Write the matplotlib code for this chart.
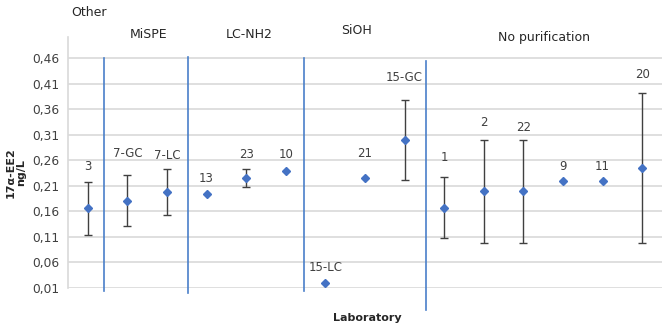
import matplotlib
matplotlib.use("Agg")
import matplotlib.pyplot as plt
import numpy as np

labs = ["3", "7-GC", "7-LC", "13", "23", "10", "15-LC", "21", "15-GC",
        "1", "2", "22", "9", "11", "20"]
means = [0.166, 0.181, 0.197, 0.194, 0.225, 0.239, 0.020, 0.226, 0.300,
         0.167, 0.199, 0.199, 0.219, 0.220, 0.245]
errs = [0.052, 0.050, 0.045, np.nan, 0.018, np.nan, np.nan, np.nan, 0.078,
        0.060, 0.100, 0.100, np.nan, np.nan, 0.147]
yticks = [0.01, 0.06, 0.11, 0.16, 0.21, 0.26, 0.31, 0.36, 0.41, 0.46]

# group separators (x in category units, y start/end)
seps = [(0.41, 0.004, 0.46), (2.54, 0.0, 0.462), (5.47, 0.005, 0.46), (8.55, -0.033, 0.455)]
groups = [("Other", 71, 13, "left"), ("MiSPE", 149, 35, "center"),
          ("LC-NH2", 249, 35, "center"), ("SiOH", 341, 30, "left"),
          ("No purification", 544, 38, "center")]
# label offsets above points (pixels)
label_dy = [42, 47, 37, 15, 24, 16, 15, 24, 62, 50, 69, 64, 15, 14, 93]

W, H = 663, 325
fig = plt.figure(figsize=(W / 100, H / 100), dpi=100)
ax = fig.add_axes([68 / W, (325 - 288) / H, (662 - 68) / W, (288 - 37) / H])
x = np.arange(len(labs))
ax.set_xlim(-0.5, len(labs) - 0.5)
ax.set_ylim(0.01, 0.501)

for yt in yticks:
    ax.axhline(yt, color="#d9d9d9", lw=1.2, zorder=0)

ax.errorbar(x, means, yerr=errs, fmt="none", ecolor="#404040", elinewidth=1,
            capsize=3, capthick=1, zorder=2)
ax.plot(x, means, linestyle="none", marker="D", ms=4.5, color="#4472c4", zorder=3)

for xi, m, lab, dy in zip(x, means, labs, label_dy):
    ax.annotate(lab, (xi, m), xytext=(0, dy), textcoords="offset pixels",
                ha="center", va="center", fontsize=8.5, color="#404040")

for sx, y0, y1 in seps:
    ax.plot([sx, sx], [y0, y1], color="#4a7fc9", lw=1.2, clip_on=False, zorder=1)

ax.set_yticks(yticks)
ax.set_yticklabels([f"{v:.2f}".replace(".", ",") for v in yticks], fontsize=8.8, color="#404040")
ax.set_xticks([])
ax.tick_params(axis="y", length=0, pad=6)
for s in ["top", "right", "bottom"]:
    ax.spines[s].set_visible(False)
ax.spines["left"].set_color("#d9d9d9")
ax.spines["left"].set_linewidth(1.2)

for t, px, py, ha in groups:
    fig.text(px / W, 1 - py / H, t, ha=ha, va="center", fontsize=9, color="#262626")

fig.text(16 / W, 1 - 173 / H, "17α-EE2\nng/L", rotation=90, ha="center", va="center",
         fontsize=8, fontweight="bold", color="#262626", linespacing=1.0)
fig.text(367 / W, 1 - 318 / H, "Laboratory", ha="center", va="center",
         fontsize=8, fontweight="bold", color="#262626")

fig.savefig("out.png", dpi=100)
